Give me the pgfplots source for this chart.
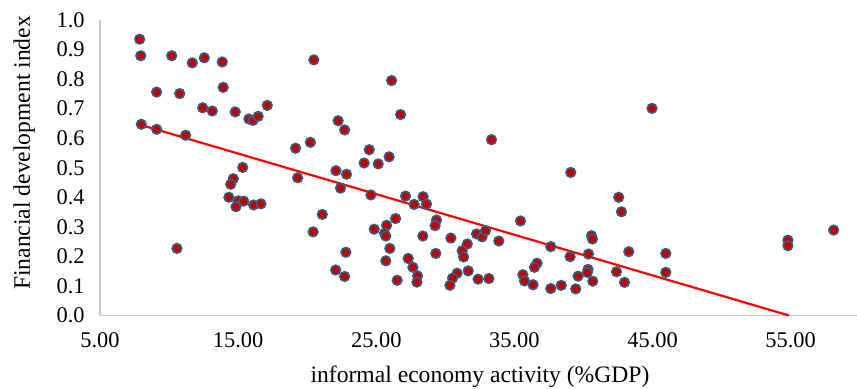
\documentclass[border=0pt]{standalone}
\usepackage{fontspec}
\setmainfont{Liberation Serif}
\usepackage{pgfplots}
\pgfplotsset{compat=1.18}
\definecolor{ptfill}{RGB}{192,0,0}
\definecolor{ptedge}{RGB}{52,94,130}
\definecolor{axgray}{RGB}{200,200,200}
\begin{document}
\begin{tikzpicture}
\useasboundingbox (-50pt,-36.75pt) rectangle (378.5pt,157.75pt);
\begin{axis}[
  scale only axis,
  width=378.5pt, height=147.75pt,
  xmin=5, xmax=59.8, ymin=0, ymax=1,
  xtick={5,15,25,35,45,55},
  ytick={0,0.1,0.2,0.3,0.4,0.5,0.6,0.7,0.8,0.9,1.0},
  axis lines=left,
  axis line style={-, axgray, line width=0.7pt},
  tick style={draw=none},
  /pgf/number format/assume math mode=true,
  xticklabel style={font=\fontsize{11.2}{13}\selectfont, yshift=-3pt, /pgf/number format/fixed, /pgf/number format/fixed zerofill, /pgf/number format/precision=2},
  yticklabel style={font=\fontsize{11.2}{13}\selectfont, xshift=-2pt, /pgf/number format/fixed, /pgf/number format/fixed zerofill, /pgf/number format/precision=1},
  xlabel={informal economy activity (\%GDP)},
  ylabel={Financial development index},
  every axis x label/.style={at={(axis description cs:0.502,-0.208)},anchor=center,font=\fontsize{11.8}{14}\selectfont},
  every axis y label/.style={at={(axis description cs:-0.100,0.55)},rotate=90,anchor=center,font=\fontsize{11.8}{14}\selectfont},
  clip=false,
]
\addplot[only marks, mark=*, mark size=2.4pt, mark options={fill=ptfill, draw=ptedge, line width=0.8pt}] coordinates {
(7.87,0.935) (7.95,0.879) (10.19,0.879) (11.68,0.855) (12.55,0.872) (13.85,0.858)
(20.48,0.865) (9.10,0.756) (10.77,0.751) (13.92,0.772) (12.43,0.703) (13.13,0.692)
(14.79,0.689) (15.78,0.665) (16.07,0.660) (16.45,0.674) (17.11,0.711) (7.99,0.647)
(9.10,0.630) (11.20,0.610) (15.33,0.501) (19.16,0.566) (20.23,0.586) (26.11,0.795)
(26.76,0.680) (22.24,0.659) (22.71,0.628) (33.34,0.595) (24.49,0.561) (25.93,0.537)
(24.12,0.516) (25.14,0.513) (22.08,0.490) (22.85,0.478) (44.96,0.701) (39.08,0.484)
(14.65,0.463) (14.46,0.444) (19.31,0.466) (14.33,0.400) (15.01,0.388) (15.40,0.387)
(14.84,0.368) (16.12,0.374) (16.65,0.378) (10.57,0.227) (20.43,0.283) (22.41,0.431)
(24.61,0.408) (27.12,0.404) (28.39,0.402) (27.74,0.376) (28.64,0.377) (21.09,0.342)
(29.36,0.323) (29.26,0.304) (25.75,0.305) (26.40,0.328) (24.85,0.292) (25.60,0.278)
(25.69,0.269) (28.37,0.269) (30.40,0.262) (32.26,0.276) (32.66,0.266) (32.91,0.287)
(33.87,0.252) (31.59,0.242) (31.22,0.219) (31.32,0.198) (25.98,0.227) (22.80,0.214)
(29.31,0.210) (25.69,0.185) (27.31,0.193) (27.65,0.163) (27.99,0.134) (27.94,0.113)
(26.51,0.119) (22.06,0.154) (22.71,0.132) (30.85,0.143) (30.52,0.126) (30.33,0.102)
(31.66,0.151) (32.37,0.123) (33.15,0.125) (42.55,0.400) (42.75,0.351) (35.44,0.320)
(40.58,0.270) (40.65,0.259) (37.63,0.233) (39.03,0.199) (40.36,0.208) (43.28,0.216)
(45.96,0.210) (45.96,0.146) (36.64,0.177) (36.45,0.163) (35.61,0.138) (35.73,0.117)
(36.35,0.104) (37.63,0.091) (38.39,0.102) (39.44,0.090) (39.61,0.133) (40.33,0.156)
(40.28,0.146) (40.67,0.116) (42.39,0.148) (42.97,0.112) (54.80,0.255) (54.80,0.236)
(58.11,0.289)
};
\addplot[red, line width=1.1pt] coordinates {(7.87,0.646) (54.88,0)};
\end{axis}
\end{tikzpicture}
\end{document}
